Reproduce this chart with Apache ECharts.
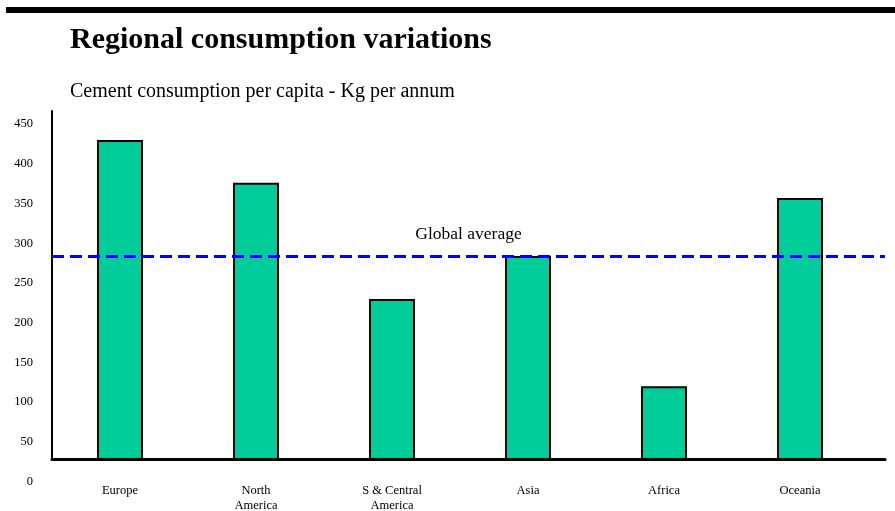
<!DOCTYPE html>
<html>
<head>
<meta charset="utf-8">
<script src="https://cdn.jsdelivr.net/npm/echarts@6/dist/echarts.min.js"></script>
<style>
  html, body { margin: 0; padding: 0; background: #ffffff; }
  #chart { width: 895px; height: 511px; }
</style>
</head>
<body>
<div id="chart"></div>
<script>
// ---- data ----
const titleText = 'Regional consumption variations';
const subtitleText = 'Cement consumption per capita - Kg per annum';
const categories = ['Europe', 'North\nAmerica', 'S & Central\nAmerica', 'Asia', 'Africa', 'Oceania'];
const consumption = [430, 376, 230, 284, 120, 357];
const globalAverage = 283.5;
const globalAverageLabel = 'Global average';

// ---- chart ----
const FONT = "'Liberation Serif', 'Times New Roman', serif";
const chart = echarts.init(document.getElementById('chart'), null, { renderer: 'canvas' });

const option = {
  animation: false,
  backgroundColor: '#ffffff',
  title: [
    { text: titleText, left: 70, top: 25, padding: 0,
      textStyle: { fontFamily: FONT, fontSize: 30, fontWeight: 'bold', color: '#000' } },
    { text: subtitleText, left: 70, top: 82, padding: 0,
      textStyle: { fontFamily: FONT, fontSize: 20, fontWeight: 'normal', color: '#000' } }
  ],
  graphic: [
    { type: 'rect', shape: { x: 6, y: 7, width: 889, height: 6 }, style: { fill: '#000' }, silent: true }
  ],
  grid: [
    { left: 52, right: 27, top: 111, bottom: 52, containLabel: false, outerBoundsMode: 'none' },   // bars
    { left: 52, right: 10, top: 111, bottom: 52, containLabel: false, outerBoundsMode: 'none' },   // x axis line + global average
    { left: 52, right: 10, top: 124, bottom: 29.3, containLabel: false, outerBoundsMode: 'none' }  // y tick labels
  ],
  xAxis: [
    { type: 'category', gridIndex: 0, data: categories, boundaryGap: true,
      axisLine: { show: false }, axisTick: { show: false },
      axisLabel: { margin: 24, fontFamily: FONT, fontSize: 12.5, color: '#000', lineHeight: 15, interval: 0 } },
    { type: 'value', gridIndex: 1, min: 0, max: 1, z: 5,
      axisLine: { show: true, onZero: false, lineStyle: { color: '#000', width: 3 } },
      axisTick: { show: false }, axisLabel: { show: false }, splitLine: { show: false } },
    { type: 'value', gridIndex: 2, show: false, min: 0, max: 1 }
  ],
  yAxis: [
    { type: 'value', gridIndex: 0, min: 28.6, max: 466.4,
      axisLine: { show: true, onZero: false, lineStyle: { color: '#000', width: 2 } },
      axisTick: { show: false }, axisLabel: { show: false }, splitLine: { show: false } },
    { type: 'value', gridIndex: 1, show: false, min: 28.6, max: 466.4 },
    { type: 'value', gridIndex: 2, min: 0, max: 450, interval: 50,
      axisLine: { show: false }, axisTick: { show: false }, splitLine: { show: false },
      axisLabel: { margin: 19, fontFamily: FONT, fontSize: 12.5, color: '#000' } }
  ],
  series: [
    {
      type: 'line', xAxisIndex: 1, yAxisIndex: 1, data: [], z: 1,
      markLine: {
        silent: true, symbol: 'none',
        lineStyle: { color: '#0000FF', width: 3, type: [12, 6] },
        label: { show: true, position: 'insideMiddleTop', distance: 13,
          formatter: globalAverageLabel, fontFamily: FONT, fontSize: 17.5, color: '#000' },
        data: [{ yAxis: globalAverage }]
      }
    },
    {
      type: 'bar', xAxisIndex: 0, yAxisIndex: 0, data: consumption, z: 2,
      barWidth: 46, clip: true,
      itemStyle: { color: '#00CC99', borderColor: '#000', borderWidth: 2 }
    }
  ]
};
chart.setOption(option);
</script>
</body>
</html>
